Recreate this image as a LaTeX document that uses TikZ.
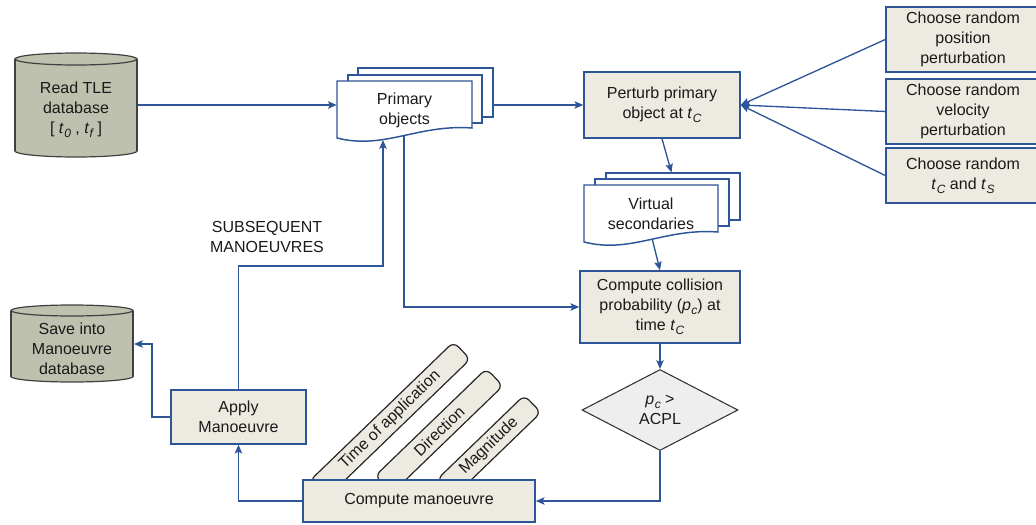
\documentclass[tikz,border=0pt]{standalone}
\usepackage{fontspec}
\setmainfont{Liberation Sans}
\usetikzlibrary{arrows.meta,shapes.geometric,backgrounds}
\definecolor{lblue}{HTML}{2E5597}
\definecolor{boxfill}{HTML}{ECEAE1}
\definecolor{cylfill}{HTML}{BDC1AD}
\definecolor{txt}{HTML}{1A1A1A}
\definecolor{diafill}{HTML}{EEEEEE}
\newcommand\tsub[2]{\textit{#1}\kern0.3pt\raisebox{-3pt}{\fontsize{9}{9}\selectfont\itshape #2}}
\begin{document}
\begin{tikzpicture}[x=0.75pt,y=-0.75pt,
  every node/.style={font=\fontsize{12}{15}\selectfont, text=txt, align=center, inner sep=0pt},
  procbox/.style={draw=lblue, line width=1.1pt, fill=boxfill},
  arr/.style={draw=lblue, line width=1pt, -{Stealth[length=6.5pt,width=5.5pt,inset=1.2pt]}},
  cylst/.style={draw=black!75, line width=0.9pt, fill=cylfill},
  cylside/.style={draw=black!75, line width=0.9pt},
  docst/.style={draw=lblue, line width=1.1pt, fill=white},
  tabst/.style={draw=black!85, line width=0.9pt, fill=boxfill, rounded corners=5pt, rotate=44, minimum height=18pt}]
\useasboundingbox (0,0) rectangle (1036,525);

% ---- Read TLE cylinder
\fill[cylfill] (15,59) rectangle (137,151);
\draw[cylst] (76,151) ellipse [x radius=61, y radius=6];
\fill[cylfill] (15,59) rectangle (137,151);
\draw[cylside] (15,59) -- (15,151) (137,59) -- (137,151);
\draw[cylst] (76,59) ellipse [x radius=61, y radius=6];
\node[minimum width=91.5pt] (tle) at (76,110) {Read TLE\\database\\{[} \tsub{t}{0} , \tsub{t}{f} {]}};

% ---- Save cylinder
\fill[cylfill] (11,310.5) rectangle (133,376.5);
\draw[cylst] (72,376.5) ellipse [x radius=61, y radius=5.5];
\fill[cylfill] (11,310.5) rectangle (133,376.5);
\draw[cylside] (11,310.5) -- (11,376.5) (133,310.5) -- (133,376.5);
\draw[cylst] (72,310.5) ellipse [x radius=61, y radius=5.5];
\node[minimum width=91.5pt] (save) at (72,348.5) {Save into\\Manoeuvre\\database};

% ---- Primary objects (multi-document)
\draw[docst] (358,68) rectangle (493,117);
\draw[docst] (348,75) rectangle (482,123);
\draw[docst] (337,81) -- (472,81) -- (472,128) .. controls (418,124) and (384,150) .. (337,138) -- cycle;
\node[minimum width=101.25pt, minimum height=42.75pt] (prim) at (404.5,110.5) {Primary\\objects};

% ---- Virtual secondaries (multi-document)
\draw[docst] (606,173) rectangle (740,220);
\draw[docst] (595,179) rectangle (729,226);
\draw[docst] (584,185) -- (718,185) -- (718,232) .. controls (664,228) and (631,254) .. (584,242) -- cycle;
\node[minimum width=100.5pt] (virt) at (651,213.5) {Virtual\\secondaries};

% ---- Process boxes
\node[procbox, minimum width=117pt, minimum height=49.5pt] (pert) at (662,105) {Perturb primary\\object at \tsub{t}{C}};
\node[procbox, minimum width=115.5pt, minimum height=48.75pt] (c1) at (963,39.5) {Choose random\\position\\perturbation};
\node[procbox, minimum width=115.5pt, minimum height=48.75pt] (c2) at (963,111.5) {Choose random\\velocity\\perturbation};
\node[procbox, minimum width=115.5pt, minimum height=41.25pt] (c3) at (963,175.5) {Choose random\\\tsub{t}{C} and \tsub{t}{S}};
\node[procbox, minimum width=120pt, minimum height=54pt] (coll) at (660,307) {Compute collision\\probability (\tsub{p}{c}) at\\time \tsub{t}{C}};
\node[diamond, aspect=1.93, draw=black!80, line width=0.8pt, fill=diafill, minimum width=117pt, minimum height=60.75pt] (dia) at (660,410) {\tsub{p}{c} >\\ACPL};

% ---- Tabs
\node[tabst, minimum width=150pt] (tab1) at (390,420) {Time of application};
\node[tabst, minimum width=116pt] (tab2) at (439,431) {Direction};
\node[tabst, minimum width=91pt] (tab3) at (489,446) {Magnitude};

\node[procbox, minimum width=174pt, minimum height=31.5pt] (man) at (419,501) {Compute manoeuvre};
\node[procbox, minimum width=101.25pt, minimum height=40.5pt] (apply) at (238.5,417) {Apply\\Manoeuvre};

\node (subs) at (267,237) {SUBSEQUENT\\MANOEUVRES};

% ---- coordinates for free connector ends
\coordinate (a1) at (137,105);
\coordinate (p3e) at (493,105);
\coordinate (vin) at (671.5,172.5);
\coordinate (vout) at (652,238);
\coordinate (pout) at (404,125);
\coordinate (pin) at (383,140);
\coordinate (sube) at (383,266);
\coordinate (k1) at (152,344);
\coordinate (saveE) at (134,344);

% ---- Connectors
\begin{scope}[on background layer]
\draw[arr] (a1) -- (a1 -| prim.west);
\draw[arr] (p3e) -- (pert.west);
\draw[arr] (c1.west) -- (pert.east);
\draw[arr] (c2.west) -- (pert.east);
\draw[arr] (c3.west) -- (pert.east);
\draw[arr] (pert.south) -- (vin);
\draw[arr] (vout) -- (coll.north);
\draw[arr] (pout) |- (coll.west);
\draw[arr] (coll.south) -- (dia.north);
\draw[arr] (dia.south) |- (man.east);
\draw[arr] (man.west) -| (apply.south);
\draw[arr] (apply.west) -| (k1) -- (saveE);
\draw[arr] (apply.north) |- (sube) -- (pin);
\end{scope}
\end{tikzpicture}
\end{document}
